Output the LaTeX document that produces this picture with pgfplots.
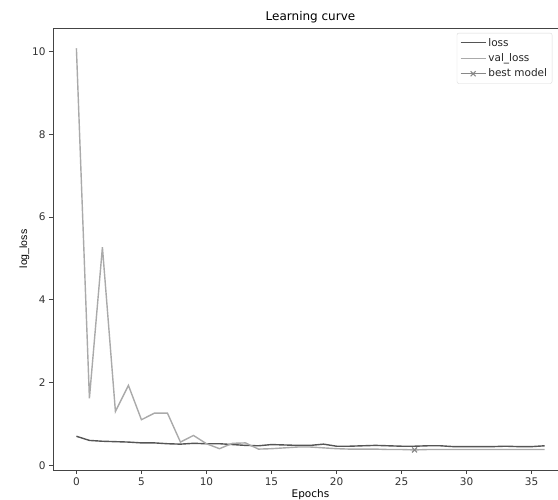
\documentclass[border=0pt]{standalone}
\usepackage{pgfplots}
\pgfplotsset{compat=1.18}
\usepackage{fontspec}
\setmainfont{DejaVu Sans}
\newfontfamily\labfont{Liberation Sans}
\definecolor{lossc}{HTML}{555555}
\definecolor{valc}{HTML}{AAAAAA}
\definecolor{bestc}{HTML}{888888}
\definecolor{axc}{HTML}{444444}
\begin{document}
\begin{tikzpicture}
\begin{axis}[
  scale only axis,
  width=515pt, height=442pt,
  xmin=-1.8, xmax=37.8,
  ymin=-0.115, ymax=10.57,
  xtick={0,5,...,35},
  ytick={0,2,...,10},
  tick align=outside,
  xtick pos=left, ytick pos=left,
  major tick length=4pt,
  axis line style={axc, line width=0.9pt},
  tick style={axc, line width=0.8pt},
  /pgf/number format/assume math mode=true,
  tick label style={font=\fontsize{10.5}{12}\selectfont, text=black!80},
  title={Learning curve},
  title style={font=\fontsize{12}{14}\selectfont, yshift=-5pt},
  xlabel={Epochs},
  xlabel style={font=\fontsize{10.5}{12}\selectfont, yshift=3pt},
  ylabel={log\_loss},
  ylabel style={font=\labfont\fontsize{10.5}{12}\selectfont, yshift=-4pt},
  legend style={at={(0.784,0.989)}, anchor=north west, draw=black!15, rounded corners=2pt,
    font=\fontsize{10.5}{12}\selectfont, row sep=2pt, inner sep=3pt, text=black!85},
  legend cell align=left,
  legend image code/.code={\draw[mark repeat=2,mark phase=2,#1] plot coordinates {(0pt,0pt)(12.5pt,0pt)(25pt,0pt)};},
]
\addplot[lossc, line width=1.4pt] coordinates {
(0,0.70)(1,0.60)(2,0.58)(3,0.57)(4,0.56)(5,0.54)(6,0.54)(7,0.52)(8,0.51)(9,0.53)
(10,0.52)(11,0.52)(12,0.50)(13,0.48)(14,0.47)(15,0.50)(16,0.49)(17,0.48)(18,0.48)(19,0.51)
(20,0.46)(21,0.46)(22,0.47)(23,0.48)(24,0.47)(25,0.46)(26,0.46)(27,0.47)(28,0.47)(29,0.45)
(30,0.45)(31,0.45)(32,0.45)(33,0.46)(34,0.45)(35,0.45)(36,0.47)};
\addlegendentry{loss}
\addplot[valc, line width=1.4pt] coordinates {
(0,10.08)(1,1.62)(2,5.27)(3,1.30)(4,1.93)(5,1.10)(6,1.26)(7,1.26)(8,0.56)(9,0.72)
(10,0.52)(11,0.40)(12,0.53)(13,0.54)(14,0.39)(15,0.40)(16,0.42)(17,0.44)(18,0.44)(19,0.42)
(20,0.40)(21,0.39)(22,0.39)(23,0.39)(24,0.38)(25,0.38)(26,0.37)(27,0.38)(28,0.38)(29,0.38)
(30,0.38)(31,0.38)(32,0.38)(33,0.38)(34,0.38)(35,0.38)(36,0.38)};
\addlegendentry{val\_loss}
\addplot[bestc, line width=1.2pt, mark=x, mark size=3.5pt, mark options={line width=1.1pt}] coordinates {(26,0.37)};
\addlegendentry{best model}
\end{axis}
\pgfresetboundingbox
\useasboundingbox (-53pt,-30pt) rectangle (505pt,470pt);
\end{tikzpicture}
\end{document}
